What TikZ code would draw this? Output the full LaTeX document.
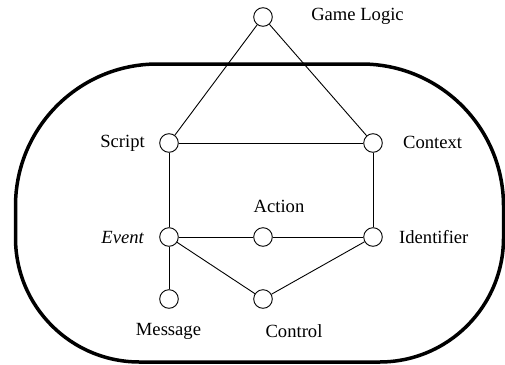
\documentclass[tikz,border=0pt]{standalone}
\usepackage{fontspec}
\setmainfont{Liberation Serif}
\begin{document}
\begin{tikzpicture}[x=1pt,y=-1pt,
  vtx/.style={circle,draw,fill=white,inner sep=0pt,minimum size=18.6pt,line width=0.9pt},
  lbl/.style={inner sep=0pt,font=\fontsize{18.6}{20}\selectfont},
  edge/.style={line width=0.9pt},
  frame/.style={line width=3.5pt}]
\useasboundingbox (0,0) rectangle (505,364);
% outer rounded frame
\draw[frame] (15.5,206) arc[start angle=180,end angle=270,radius=142] -- (361.5,64)
  arc[start angle=270,end angle=360,radius=142] -- (503.5,238)
  arc[start angle=0,end angle=90,radius=124] -- (139.5,362)
  arc[start angle=90,end angle=180,radius=124] -- cycle;
% vertices
\node[vtx] (gl) at (263,17) {};
\node[vtx] (sc) at (169,143) {};
\node[vtx] (cx) at (373,143) {};
\node[vtx] (ev) at (169,237) {};
\node[vtx] (ac) at (263,237) {};
\node[vtx] (id) at (373,237) {};
\node[vtx] (ms) at (169,299) {};
\node[vtx] (ct) at (263,299) {};
% edges
\draw[edge] (gl) -- (sc);
\draw[edge] (gl) -- (cx);
\draw[edge] (sc) -- (cx);
\draw[edge] (sc) -- (ev);
\draw[edge] (cx) -- (id);
\draw[edge] (ev) -- (ac);
\draw[edge] (ac) -- (id);
\draw[edge] (ev) -- (ms);
\draw[edge] (ev) -- (ct);
\draw[edge] (ct) -- (id);
% labels
\node[lbl,anchor=base] (lgl) at (357.5,20.7) {Game Logic};
\node[lbl,anchor=base east] (lsc) at (145,147.3) {Script};
\node[lbl,anchor=base west] (lcx) at (403,148.5) {Context};
\node[lbl,anchor=base] (lac) at (279,212) {Action};
\node[lbl,anchor=base east] (lev) at (144,243) {\itshape Event};
\node[lbl,anchor=base west] (lid) at (399,243.5) {Identifier};
\node[lbl,anchor=base] (lms) at (168.5,335) {Message};
\node[lbl,anchor=base] (lct) at (294,337) {Control};
\end{tikzpicture}
\end{document}
